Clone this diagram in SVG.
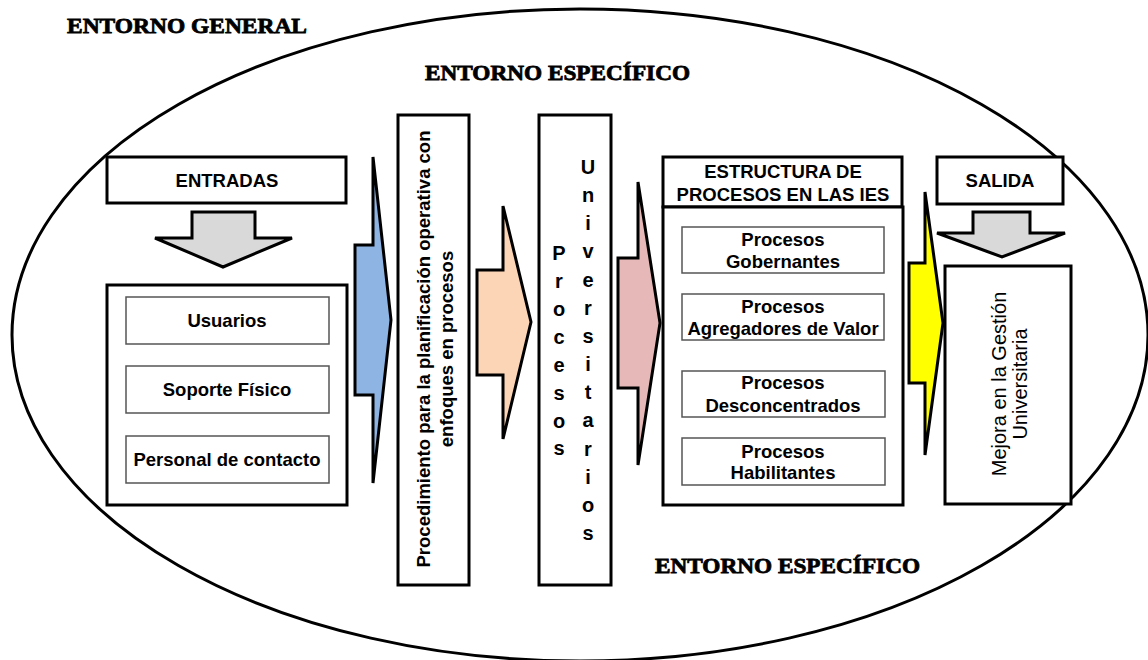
<svg xmlns="http://www.w3.org/2000/svg" width="1148" height="660" viewBox="0 0 1148 660">
<style>
.title{font-family:"Liberation Serif","Times New Roman",serif;font-weight:bold;font-size:22px;fill:#000;stroke:#000;stroke-width:0.8}
.t{font-family:"Liberation Sans",Arial,sans-serif;font-weight:bold;font-size:18.5px;fill:#000;text-anchor:middle}
.tn{font-family:"Liberation Sans",Arial,sans-serif;font-weight:normal;font-size:20px;fill:#000;text-anchor:middle}
.v{font-family:"Liberation Sans",Arial,sans-serif;font-weight:bold;font-size:20px;fill:#000;text-anchor:middle}
.box{fill:#fff;stroke:#000;stroke-width:3}
.inner{fill:#fff;stroke:#555;stroke-width:1.5}
.arr{stroke:#000;stroke-width:3;stroke-linejoin:miter}
</style>
<rect width="1148" height="660" fill="#fff"/>
<ellipse cx="580" cy="335" rx="568" ry="326" fill="none" stroke="#000" stroke-width="3"/>
<text class="title" x="67" y="33" textLength="240" lengthAdjust="spacingAndGlyphs">ENTORNO GENERAL</text>
<text class="title" x="425" y="80" textLength="265" lengthAdjust="spacingAndGlyphs">ENTORNO ESPECÍFICO</text>
<text class="title" x="655" y="573" textLength="265" lengthAdjust="spacingAndGlyphs">ENTORNO ESPECÍFICO</text>

<g id="connectors">
<polygon class="arr" fill="#D9D9D9" points="192,212 255,212 255,238 292,238 223,267 155,238 192,238"/>
<polygon class="arr" fill="#D9D9D9" points="973,212 1030,212 1030,233 1065,233 1002,257 937,233 973,233"/>
<polygon class="arr" fill="#8EB4E3" points="355,245 373,245 373,157 391,320 373,483 373,395 355,395"/>
<polygon class="arr" fill="#FBD5B5" points="477,270 503,270 503,206 531,322 503,439 503,375 477,375"/>
<polygon class="arr" fill="#E6B9B8" points="618,258 638,258 638,182 660,323 638,465 638,388 618,388"/>
<polygon class="arr" fill="#FFFF00" points="909,263 925,263 925,192 943,323 925,455 925,383 909,383"/>
</g>

<g id="entradas">
<rect class="box" x="107" y="157" width="239" height="46"/>
<text class="t" x="227" y="187">ENTRADAS</text>
</g>
<g id="entradas-lista">
<rect class="box" x="107" y="285" width="240" height="220"/>
<rect class="inner" x="126" y="297" width="203" height="47"/>
<text class="t" x="227" y="327">Usuarios</text>
<rect class="inner" x="126" y="366" width="203" height="47"/>
<text class="t" x="227" y="396">Soporte Físico</text>
<rect class="inner" x="126" y="436" width="203" height="47"/>
<text class="t" x="227" y="466">Personal de contacto</text>
</g>

<g id="procedimiento">
<rect class="box" x="398" y="115" width="71" height="470"/>
<text class="t" transform="translate(430,349) rotate(-90)">Procedimiento para la planificación operativa con</text>
<text class="t" transform="translate(453,349) rotate(-90)">enfoques en procesos</text>
</g>

<g id="procesos-universitarios">
<rect class="box" x="539" y="115" width="72" height="470"/>
<text class="v" x="559" y="260">P</text>
<text class="v" x="559" y="288">r</text>
<text class="v" x="559" y="316">o</text>
<text class="v" x="559" y="344">c</text>
<text class="v" x="559" y="372">e</text>
<text class="v" x="559" y="400">s</text>
<text class="v" x="559" y="428">o</text>
<text class="v" x="559" y="455">s</text>
<text class="v" x="588" y="174">U</text>
<text class="v" x="588" y="202">n</text>
<text class="v" x="588" y="230">i</text>
<text class="v" x="588" y="258">v</text>
<text class="v" x="588" y="287">e</text>
<text class="v" x="588" y="315">r</text>
<text class="v" x="588" y="343">s</text>
<text class="v" x="588" y="371">i</text>
<text class="v" x="588" y="399">t</text>
<text class="v" x="588" y="427">a</text>
<text class="v" x="588" y="456">r</text>
<text class="v" x="588" y="484">i</text>
<text class="v" x="588" y="512">o</text>
<text class="v" x="588" y="540">s</text>
</g>

<g id="estructura">
<rect class="box" x="663" y="157" width="239" height="50"/>
<text class="t" x="783" y="178">ESTRUCTURA DE</text>
<text class="t" x="783" y="201">PROCESOS EN LAS IES</text>
</g>
<g id="estructura-lista">
<rect class="box" x="663" y="207" width="240" height="298"/>
<rect class="inner" x="682" y="227" width="202" height="46"/>
<text class="t" x="783" y="246">Procesos</text>
<text class="t" x="783" y="268">Gobernantes</text>
<rect class="inner" x="682" y="294" width="202" height="46"/>
<text class="t" x="783" y="313">Procesos</text>
<text class="t" x="783" y="335">Agregadores de Valor</text>
<rect class="inner" x="682" y="371" width="203" height="46"/>
<text class="t" x="783" y="389">Procesos</text>
<text class="t" x="783" y="412">Desconcentrados</text>
<rect class="inner" x="682" y="438" width="203" height="47"/>
<text class="t" x="783" y="458">Procesos</text>
<text class="t" x="783" y="479">Habilitantes</text>
</g>

<g id="salida">
<rect class="box" x="937" y="157" width="126" height="47"/>
<text class="t" x="1000" y="187">SALIDA</text>
</g>
<g id="mejora">
<rect class="box" x="945" y="266" width="126" height="238"/>
<text class="tn" transform="translate(1006,384) rotate(-90)">Mejora en la Gestión</text>
<text class="tn" transform="translate(1027,384) rotate(-90)">Universitaria</text>
</g>
</svg>
